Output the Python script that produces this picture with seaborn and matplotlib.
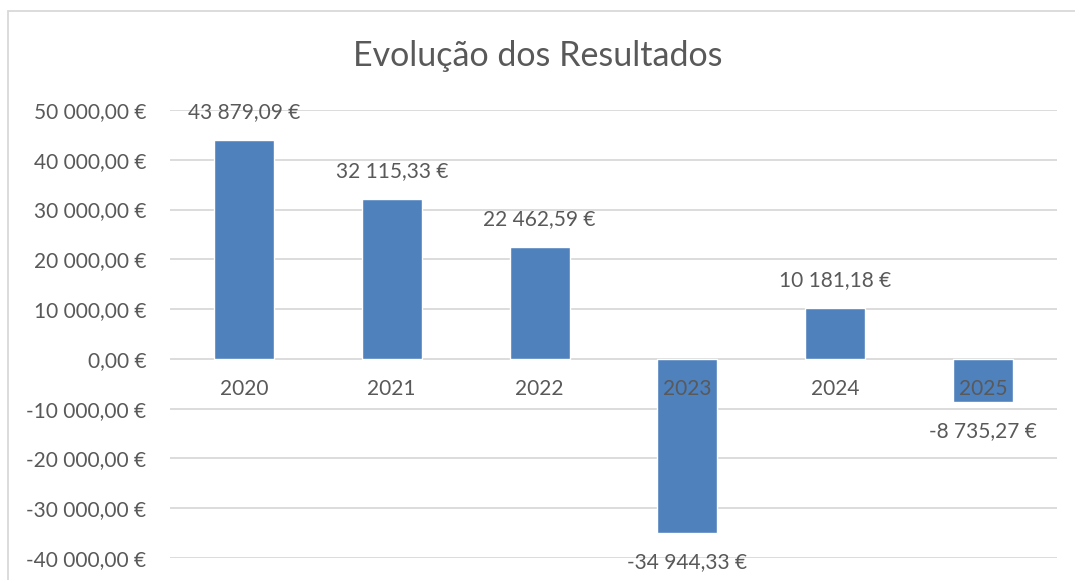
import numpy as np
import pandas as pd
import matplotlib.pyplot as plt
import matplotlib.patches as patches
import seaborn as sns

years = ["2020", "2021", "2022", "2023", "2024", "2025"]
results = [43879.09, 32115.33, 22462.59, -34944.33, 10181.18, -8735.27]
y_ticks = [-40000, -30000, -20000, -10000, 0, 10000, 20000, 30000, 40000, 50000]

def euro(v):
    s = f"{v:,.2f}".replace(",", " ").replace(".", ",")
    return s + " €"

data = pd.DataFrame({"Ano": years, "Resultado": results})

sns.set_style("white")
plt.rcParams['font.family'] = ['Lato', 'DejaVu Sans']
text_col = "#595959"
grid_col = "#D9D9D9"
bar_col = "#4F81BD"
fs = 15

fig = plt.figure(figsize=(10.75, 5.8), dpi=100)
ax = fig.add_axes([170/1075, 22/580, (1057-170)/1075, (558-110)/580])

sns.barplot(data=data, x="Ano", y="Resultado", color=bar_col, width=0.405,
            saturation=1, ax=ax, zorder=2)

ax.set_ylim(-40000, 50000)
ax.set_xlim(-0.5, len(years) - 0.5)
ax.set_yticks(y_ticks)
ax.set_yticklabels([euro(t) for t in y_ticks], fontsize=fs, color=text_col)
ax.tick_params(axis="y", length=0, pad=17)
ax.set_xticks(range(len(years)))
ax.set_xticklabels([])
ax.tick_params(axis="x", length=0)
ax.set_xlabel("")
ax.set_ylabel("")
for t in y_ticks:
    ax.axhline(t, color=grid_col, lw=1.3, zorder=0)
for s in ax.spines.values():
    s.set_visible(False)

# category labels sit just under the zero line
for i, yr in enumerate(years):
    ax.annotate(yr, (i, 0), xytext=(0, -30), textcoords="offset pixels",
                ha="center", va="center", fontsize=fs, color=text_col, zorder=5)

# value labels
for i, v in enumerate(results):
    off = 28 if v >= 0 else -29
    ax.annotate(euro(v), (i, v), xytext=(0, off), textcoords="offset pixels",
                ha="center", va="center", fontsize=fs, color=text_col,
                annotation_clip=False, zorder=5)

fig.text(0.5, 1 - 56/580, "Evolução dos Resultados", ha="center", va="center",
         fontsize=24.5, color=text_col)

border = patches.Rectangle((8/1075, -0.1), 1.1, 1 - 11/580 + 0.1,
                           transform=fig.transFigure, fill=False,
                           edgecolor=grid_col, lw=1.3)
fig.patches.append(border)

fig.savefig("out.png", dpi=100)
